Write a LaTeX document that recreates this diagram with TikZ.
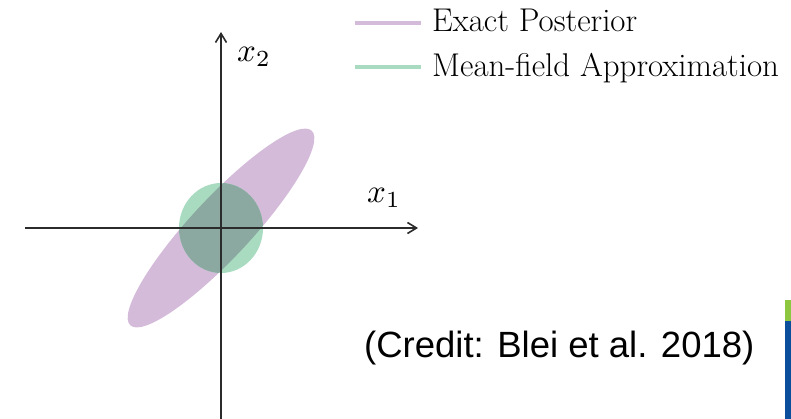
\documentclass[tikz,border=0pt]{standalone}
\usepackage{fontspec}
\newfontfamily\creditfont{Liberation Sans}
\usetikzlibrary{arrows.meta}
\definecolor{viroxo}{HTML}{D4BBDA}
\definecolor{viverde}{HTML}{A9DBC0}
\definecolor{visobre}{HTML}{8BA9A1}
\definecolor{vieixocor}{HTML}{2B2B2B}
\definecolor{vibarverde}{HTML}{8DC63F}
\definecolor{vibarazul}{HTML}{0B4F9C}
\newcommand{\vimatg}[1]{\scalebox{3.3}{$#1$}}
\tikzset{
  vieixo/.style={draw=vieixocor, line width=1.6pt, -{Straight Barb[length=9pt, width=11pt]}},
  vilegenda/.style={line width=4.5pt},
  vitexto/.style={font=\fontsize{32.9}{37}\selectfont\addfontfeatures{FakeStretch=1.17}, anchor=base west, inner sep=0pt},
  vimat/.style={anchor=base west, inner sep=0pt},
}

\begin{document}
\begin{tikzpicture}[x=1pt, y=-1pt,
        posterior/.style={rotate around={47:(o)}},
        credito/.style={font=\creditfont\fontsize{36.5}{42}\selectfont, anchor=base west, inner sep=0pt}
    ]
        \useasboundingbox (0,0) rectangle (791,419);
        % origem e pontas dos eixos
        \coordinate (o) at (221,228);
        \coordinate (xini) at (25,228);
        \coordinate (xfim) at (418,228);
        \coordinate (yini) at (221,419);
        \coordinate (yfim) at (221,32);
        % posterior exata e campo medio
        \fill[viroxo, posterior] (o) ellipse [x radius=133pt, y radius=30pt];
        \fill[viverde] (o) ellipse [x radius=42pt, y radius=45pt];
        \begin{scope}
            \clip[posterior] (o) ellipse [x radius=133pt, y radius=30pt];
            \fill[visobre] (o) ellipse [x radius=42pt, y radius=45pt];
        \end{scope}
        % eixos
        \draw[vieixo] (xini) -- (xfim);
        \draw[vieixo] (yini) -- (yfim);
        \node[vimat] (rotx1) at (367,203) {\vimatg{x_1}};
        \node[vimat] (rotx2) at (237,62) {\vimatg{x_2}};
        % legenda
        \node[vitexto] (lexata) at (432,32) {Exact Posterior};
        \node[vitexto] (lcampo) at (432,77) {Mean-field Approximation};
        \coordinate (lexini) at (355,23);
        \coordinate (lexfim) at (421,23);
        \coordinate (lcaini) at (355,67);
        \coordinate (lcafim) at (421,67);
        \draw[vilegenda, viroxo] (lexini) -- (lexfim);
        \draw[vilegenda, viverde] (lcaini) -- (lcafim);
        % credito
        \node[credito] (cred) at (364,357) {(Credit: Blei et al. 2018)};
        % faixa lateral
        \fill[vibarverde] (785,300) rectangle (791,321);
        \fill[vibarazul] (785,321) rectangle (791,419);
    \end{tikzpicture}
\end{document}
